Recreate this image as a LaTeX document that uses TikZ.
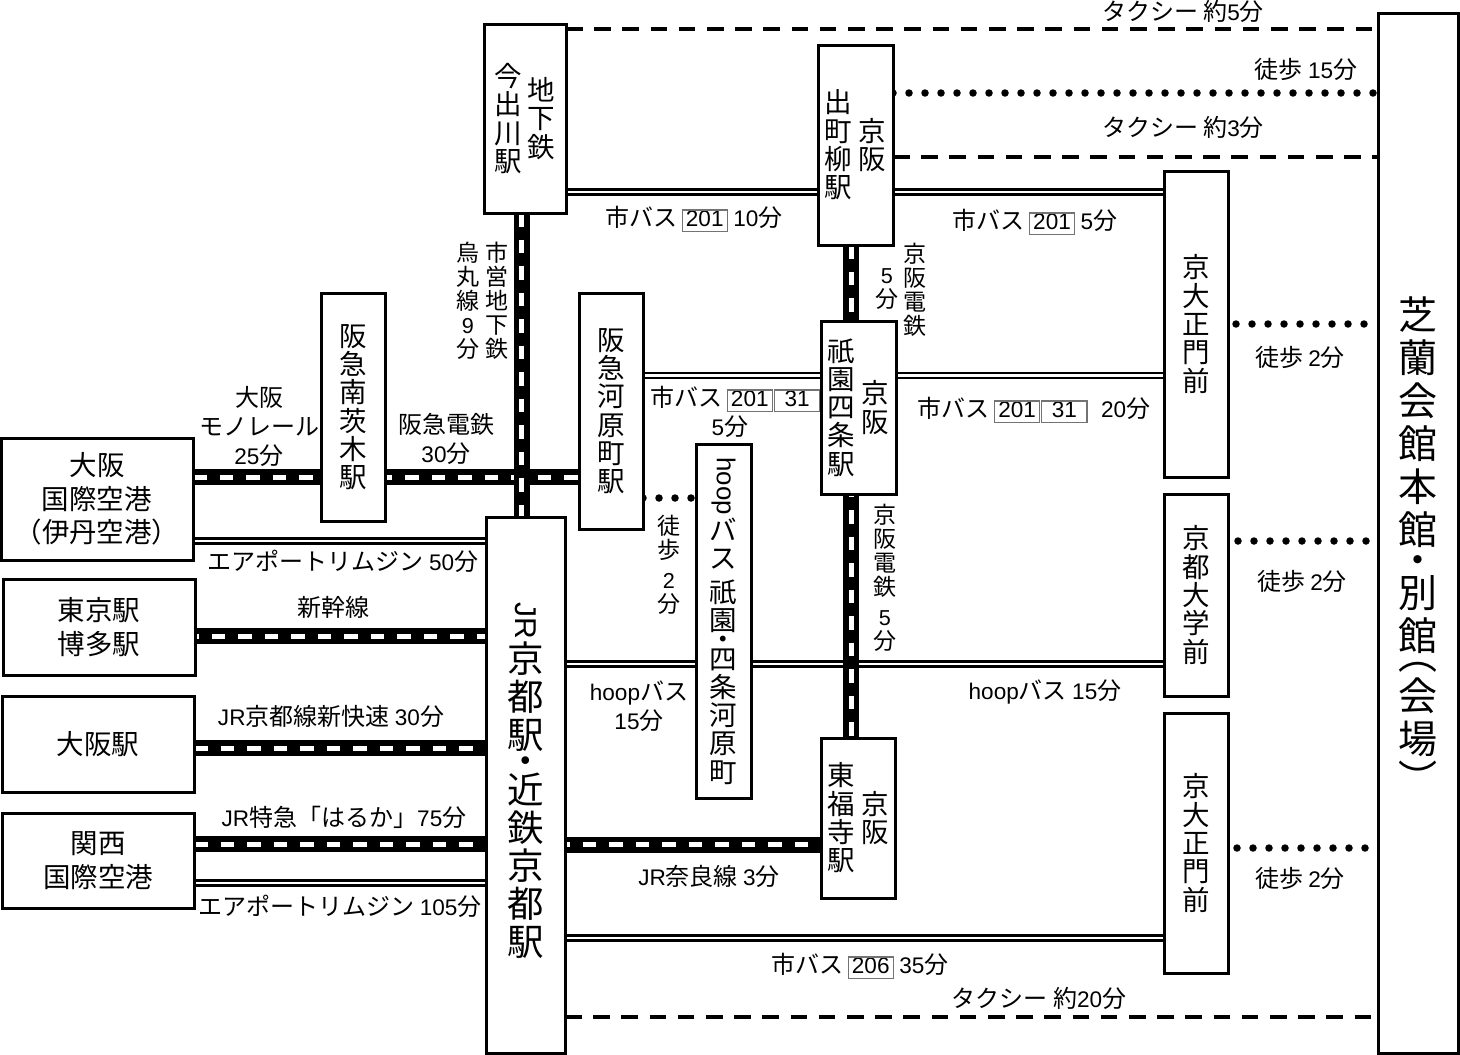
\documentclass[tikz,border=0pt]{standalone}
\usepackage{fontspec}
\usepackage{graphicx}
\setmainfont{Noto Sans CJK JP}
\newfontfamily\romfont[Scale=0.94]{Liberation Sans}
\usetikzlibrary{calc}
\pgfdeclarelayer{background}
\pgfsetlayers{background,main}
\tikzstyle{station}=[draw, fill=white, line width=3pt, inner sep=0pt, outer sep=0pt,
  align=center, font=\fontsize{27.5}{28.3}\selectfont]
\tikzstyle{wide} = [station, font=\fontsize{27.5}{33.5}\selectfont]
\tikzstyle{big} = [station, font=\fontsize{36.5}{38}\selectfont]
\tikzstyle{venue} = [station, font=\fontsize{39}{43}\selectfont]
\tikzstyle{note} = [inner sep=0pt, outer sep=0pt, align=center, font=\fontsize{24}{29}\selectfont]
\tikzstyle{tate} = [note, font=\fontsize{23}{24}\selectfont]
\tikzstyle{rail} = [preaction={draw, solid, black, line width=16pt}, draw, white,
  line width=5pt, dash pattern=on 13.5pt off 13pt]
\tikzstyle{bus} = [draw, black, line width=7.8pt, postaction={draw, white, line width=2.6pt}]
\tikzstyle{taxi} = [draw, black, line width=3.5pt, dash pattern=on 16.5pt off 11.7pt]
\tikzstyle{walk} = [draw, black, line width=7.5pt, line cap=round, dash pattern=on 0pt off 16pt]
\newcommand{\rom}[1]{{\romfont #1}}
\newcommand{\rot}[1]{\rotatebox[origin=c]{-90}{\romfont #1}}
\newcommand{\tatebox}[1]{\parbox[c]{30pt}{\centering #1}}
\newcommand{\busno}[1]{{\setlength{\fboxsep}{0pt}\setlength{\fboxrule}{1.2pt}%
  \fcolorbox{black!55}{white}{\makebox[44pt]{\rule[-4pt]{0pt}{20pt}\romfont #1}}}}
\begin{document}
\begin{tikzpicture}[x=1pt,y=-1pt]
  \useasboundingbox (0,0) rectangle (1460,1055);

  % Draw diagram elements
  % departure stations
  \node [wide, minimum width=192, minimum height=122] (ITAMI) at (97,499) {大阪\\国際空港\\（伊丹空港）};
  \node [wide, minimum width=192, minimum height=96] (TOKYO) at (99,627) {東京駅\\博多駅};
  \node [wide, minimum width=192, minimum height=96] (OSAKA) at (98,744) {大阪駅};
  \node [wide, minimum width=192, minimum height=95] (KANSAI) at (98,860.5) {関西\\国際空港};
  % stations in the city
  \node [station, minimum width=64, minimum height=228] (MINAMI) at (353,407) {阪\\急\\南\\茨\\木\\駅};
  \node [station, minimum width=64, minimum height=236] (KAWARAMACHI) at (611,411) {阪\\急\\河\\原\\町\\駅};
  \node [station, minimum width=82, minimum height=189] (IMADEGAWA) at (525,118.5)
    {\tatebox{今\\出\\川\\駅}\hspace{3pt}\tatebox{地\\下\\鉄}};
  \node [station, minimum width=75, minimum height=200] (DEMACHI) at (855.5,145)
    {\tatebox{出\\町\\柳\\駅}\hspace{4pt}\tatebox{京\\阪}};
  \node [station, minimum width=75, minimum height=173] (GION) at (858.5,407.5)
    {\tatebox{祇\\園\\四\\条\\駅}\hspace{4pt}\tatebox{京\\阪}};
  \node [station, minimum width=74, minimum height=160] (HIGASHI) at (858,818)
    {\tatebox{東\\福\\寺\\駅}\hspace{4pt}\tatebox{京\\阪}};
  \node [station, minimum width=55, minimum height=354] (HOOP) at (723.5,621)
    {\rot{hoop}\\[2pt]バ\\ス\\[5pt]祇\\園\\[-9pt]・\\[-9pt]四\\条\\河\\原\\町};
  \node [big, minimum width=79, minimum height=536] (KYOTO) at (525.5,785)
    {{\fontsize{32}{38}\selectfont\rot{JR}}\\[2pt]京\\都\\駅\\[-12pt]・\\[-9pt]近\\鉄\\京\\都\\駅\\[-26pt]\rule{0pt}{0pt}};
  % bus stops and the venue
  \node [station, minimum width=64, minimum height=306] (SEIMON) at (1196,324) {京\\大\\正\\門\\前};
  \node [station, minimum width=64, minimum height=202] (KYODAI) at (1196,595) {京\\都\\大\\学\\前};
  \node [station, minimum width=64, minimum height=260] (SEIMONB) at (1196,843) {京\\大\\正\\門\\前};
  \node [venue, minimum width=80, minimum height=1040] (SHIRAN) at (1418,533)
    {\rule{0pt}{0pt}\\[14pt]芝\\蘭\\会\\館\\本\\館\\[-13pt]・\\[-10pt]別\\館\\[-24pt]︵\\[-2pt]会\\場\\[-3pt]︶};

  % Draw arrows between elements
  \begin{pgfonlayer}{background}
    % taxi and walking
    \path [taxi] (IMADEGAWA.east |- 0,29) -- (SHIRAN.west |- 0,29);
    \path [walk] (DEMACHI.east |- 0,93) -- (SHIRAN.west |- 0,93);
    \path [taxi] (DEMACHI.east |- 0,157) -- (SHIRAN.west |- 0,157);
    \path [taxi] (KYOTO.east |- 0,1017) -- (SHIRAN.west |- 0,1017);
    \path [walk] (KAWARAMACHI.east |- 0,498) -- (HOOP.west |- 0,498);
    \path [walk, shorten <=8pt, shorten >=12pt] (SEIMON.east |- 0,324) -- (SHIRAN.west |- 0,324);
    \path [walk, shorten <=10pt, shorten >=10pt] (KYODAI.east |- 0,541) -- (SHIRAN.west |- 0,541);
    \path [walk, shorten <=9pt, shorten >=13pt] (SEIMONB.east |- 0,848) -- (SHIRAN.west |- 0,848);
    % buses
    \path [bus] (IMADEGAWA.east |- 0,192) -- (DEMACHI.west |- 0,192);
    \path [bus] (DEMACHI.east |- 0,192) -- (SEIMON.west |- 0,192);
    \path [bus] (KAWARAMACHI.east |- 0,375.5) -- (GION.west |- 0,375.5);
    \path [bus] (GION.east |- 0,375.5) -- (SEIMON.west |- 0,375.5);
    \path [bus] (ITAMI.east |- 0,541) -- (KYOTO.west |- 0,541);
    \path [bus] (KANSAI.east |- 0,883) -- (KYOTO.west |- 0,883);
    \path [bus] (KYOTO.east |- 0,664) -- (KYODAI.west |- 0,664);
    \path [bus] (KYOTO.east |- 0,938) -- (SEIMONB.west |- 0,938);
    % trains
    \path [rail] (ITAMI.east |- 0,477) -- (KAWARAMACHI.west |- 0,477);
    \path [rail] (IMADEGAWA.south -| 521.5,0) -- (KYOTO.north -| 521.5,0);
    \path [rail] (DEMACHI.south -| 851,0) -- (HIGASHI.north -| 851,0);
    \path [rail, dash phase=10pt] (TOKYO.east |- 0,636) -- (KYOTO.west |- 0,636);
    \path [rail] (OSAKA.east |- 0,748) -- (KYOTO.west |- 0,748);
    \path [rail] (KANSAI.east |- 0,844) -- (KYOTO.west |- 0,844);
    \path [rail, dash phase=9pt] (KYOTO.east |- 0,844.5) -- (HIGASHI.west |- 0,844.5);
  \end{pgfonlayer}

  % labels on the left
  \node [note] (MONO) at (259,426) {大阪\\モノレール\\\rom{25}分};
  \node [note] (HANKYU) at (446,438.5) {阪急電鉄\\\rom{30}分};
  \node [note] (LIMOA) at (343,561) {エアポートリムジン \rom{50}分};
  \node [note] (SHINKANSEN) at (333,607) {新幹線};
  \node [note] (SHINKAISOKU) at (331,716) {\rom{JR}京都線新快速 \rom{30}分};
  \node [note] (HARUKA) at (344,817) {\rom{JR}特急「はるか」\rom{75}分};
  \node [note] (LIMOB) at (340,906) {エアポートリムジン \rom{105}分};
  % labels in the middle
  \node [tate] (SUBWAY) at (497,301) {市\\営\\地\\下\\鉄};
  \node [tate] (KARASUMA) at (468,301) {烏\\丸\\線\\\rom{9}\\分};
  \node [note] (BUSA) at (694,219) {市バス\hspace{4pt}\busno{201} \rom{10}分};
  \node [note] (BUSC) at (735.5,399) {市バス\hspace{4pt}\busno{201}\hspace{1pt}\busno{31}};
  \node [note] (BUSCTIME) at (730,427) {\rom{5}分};
  \node [tate] (WALKHOOP) at (669,565) {徒\\歩\\[6pt]\rom{2}\\分};
  \node [tate] (KEIHANA) at (915,290) {京\\阪\\電\\鉄};
  \node [tate] (KEIHANATIME) at (887,289) {\rom{5}\\分};
  \node [tate] (KEIHANB) at (885,577.5) {京\\阪\\電\\鉄\\[6pt]\rom{5}\\分};
  \node [note] (HOOPA) at (639,706.5) {\rom{hoop}バス\\\rom{15}分};
  \node [note] (NARA) at (709,876) {\rom{JR}奈良線 \rom{3}分};
  \node [note] (BUSE) at (860,966) {市バス\hspace{4pt}\busno{206} \rom{35}分};
  % labels on the right
  \node [note] (TAXIA) at (1183,11) {タクシー 約\rom{5}分};
  \node [note] (WALKA) at (1306,69) {徒歩 \rom{15}分};
  \node [note] (TAXIB) at (1183,127) {タクシー 約\rom{3}分};
  \node [note] (BUSB) at (1035,222) {市バス\hspace{4pt}\busno{201} \rom{5}分};
  \node [note] (WALKB) at (1300,357) {徒歩 \rom{2}分};
  \node [note] (BUSD) at (1034,410) {市バス\hspace{4pt}\busno{201}\hspace{1pt}\busno{31}\hspace{8pt} \rom{20}分};
  \node [note] (WALKC) at (1302,581) {徒歩 \rom{2}分};
  \node [note] (HOOPB) at (1045,692) {\rom{hoop}バス \rom{15}分};
  \node [note] (WALKD) at (1300,878) {徒歩 \rom{2}分};
  \node [note] (TAXIC) at (1039,998) {タクシー 約\rom{20}分};

\end{tikzpicture}
\end{document}
